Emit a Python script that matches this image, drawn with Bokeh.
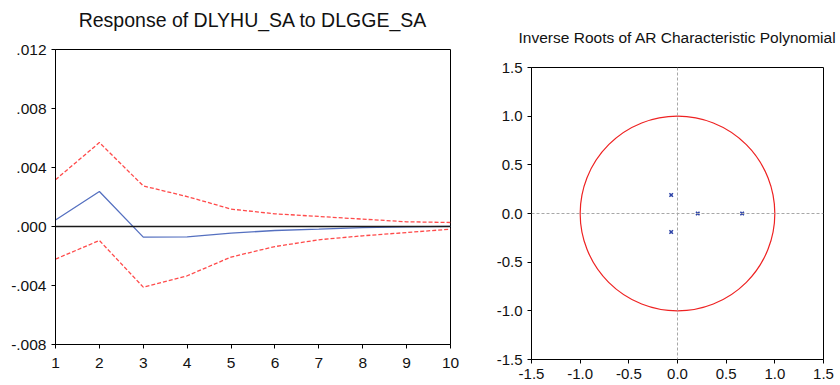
from bokeh.plotting import figure
from bokeh.layouts import row, column
from bokeh.models import Range1d, FixedTicker, CustomJSTickFormatter, Span
from bokeh.core.properties import value
from bokeh.embed import file_html
from bokeh.resources import INLINE

# Impulse response of DLYHU_SA to a DLGGE_SA shock, with +/- 2 S.E. bands
periods = [1, 2, 3, 4, 5, 6, 7, 8, 9, 10]
response = [0.00044, 0.00237, -0.00072, -0.00071, -0.00045, -0.00027, -0.00018, -0.00008, -0.00003, 0.00001]
upper_band = [0.00317, 0.00569, 0.00275, 0.00203, 0.00118, 0.00086, 0.00068, 0.00050, 0.00032, 0.00027]
lower_band = [-0.00221, -0.00095, -0.00411, -0.00334, -0.00207, -0.00136, -0.00090, -0.00063, -0.00041, -0.00018]
irf_yticks = [-0.008, -0.004, 0.0, 0.004, 0.008, 0.012]

# Inverse roots of the AR characteristic polynomial
root_re = [-0.065, -0.065, 0.208, 0.664]
root_im = [0.19, -0.19, 0.0, 0.0]
root_ticks = [-1.5, -1.0, -0.5, 0.0, 0.5, 1.0, 1.5]

titles = ["Response of DLYHU_SA to DLGGE_SA", "Inverse Roots of AR Characteristic Polynomial"]

FONT = "Liberation Sans"


def style_axes(p, size):
    for ax in (p.xaxis[0], p.yaxis[0]):
        ax.axis_line_color = "black"
        ax.major_tick_line_color = "black"
        ax.major_tick_out = 4
        ax.major_tick_in = 0
        ax.minor_tick_line_color = None
        ax.major_label_text_font = FONT
        ax.major_label_text_font_size = size
        ax.major_label_text_color = "#111111"
        ax.major_label_standoff = 5
    p.xgrid.visible = False
    p.ygrid.visible = False
    p.outline_line_color = "black"
    p.outline_line_alpha = 1.0


def header(text, width, height, cx, y, size):
    # a bare strip holding one centred heading line
    h = figure(width=width, height=height, output_backend="svg", toolbar_location=None,
               x_range=Range1d(0, width), y_range=Range1d(0, height),
               x_axis_type=None, y_axis_type=None,
               min_border_left=0, min_border_right=0, min_border_top=0, min_border_bottom=0)
    h.outline_line_color = None
    h.xgrid.visible = False
    h.ygrid.visible = False
    h.text(x=[cx], y=[y], text=[text], text_align="center",
           text_baseline="alphabetic", text_font=value(FONT),
           text_font_size=value(size), text_color="#111111")
    return h


# ---- left panel: impulse response ----
left_head = header(titles[0], 470, 36, 252.5, 17, "19.5px")
left = figure(width=470, height=349, output_backend="svg", toolbar_location=None,
              x_range=Range1d(1, 10), y_range=Range1d(-0.008, 0.012),
              min_border_left=55, min_border_right=20, min_border_top=13, min_border_bottom=41)
style_axes(left, "15.5px")
left.xaxis.major_label_standoff = 9
left.xaxis.ticker = FixedTicker(ticks=periods)
left.yaxis.ticker = FixedTicker(ticks=irf_yticks)
left.yaxis.formatter = CustomJSTickFormatter(
    code="return tick.toFixed(3).replace(/^(-?)0\\./, '$1.');")

left.add_layout(Span(location=0, dimension="width", line_color="#1a1a1a", line_width=1.4))
left.line(periods, upper_band, line_color="#ff4a4a", line_width=1.3, line_dash="4 2")
left.line(periods, lower_band, line_color="#ff4a4a", line_width=1.3, line_dash="4 2")
left.line(periods, response, line_color="#5570c0", line_width=1.3)

# ---- right panel: AR roots with unit circle ----
right_head = header(titles[1], 370, 54, 207, 16.7, "15.5px")
right = figure(width=370, height=331, output_backend="svg", toolbar_location=None,
               x_range=Range1d(-1.5, 1.5), y_range=Range1d(-1.5, 1.5),
               min_border_left=61, min_border_right=17, min_border_top=13, min_border_bottom=26)
style_axes(right, "15px")
right.xaxis.ticker = FixedTicker(ticks=root_ticks)
right.yaxis.ticker = FixedTicker(ticks=root_ticks)
right.xaxis.formatter = CustomJSTickFormatter(code="return tick.toFixed(1);")
right.yaxis.formatter = CustomJSTickFormatter(code="return tick.toFixed(1);")

right.add_layout(Span(location=0, dimension="width", line_color="#a8a8a8", line_width=1, line_dash="3 2"))
right.add_layout(Span(location=0, dimension="height", line_color="#a8a8a8", line_width=1, line_dash="3 2"))
right.ellipse(x=[0], y=[0], width=2, height=2, fill_color=None, line_color="#ee2222", line_width=1.2)
right.scatter(root_re, root_im, marker="x", size=5, line_color="#2e44a8", line_width=1.6)

layout = row(column(row(left_head), left, spacing=0),
             column(row(right_head), right, spacing=0), spacing=0)
open("out.html", "w").write(file_html(layout, INLINE))
